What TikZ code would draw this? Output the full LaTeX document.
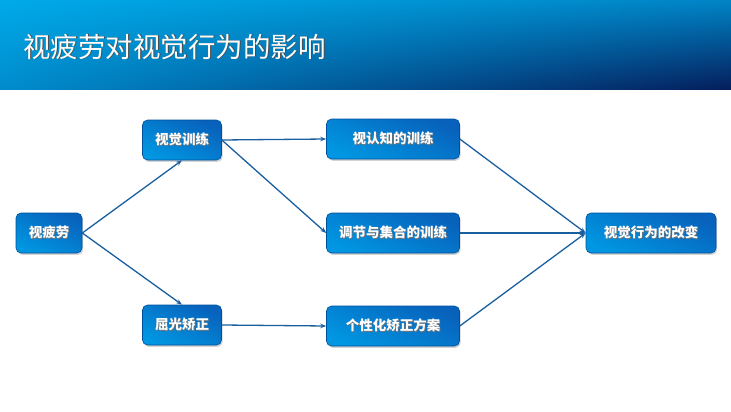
\documentclass[tikz,border=0pt]{standalone}
\usepackage{fontspec}
\setmainfont{Noto Sans CJK SC}
\usetikzlibrary{arrows.meta,shadows,shadings}

\definecolor{barlt}{RGB}{0,170,232}
\definecolor{barlb}{RGB}{0,140,205}
\definecolor{barrt}{RGB}{0,132,198}
\definecolor{barrb}{RGB}{5,30,92}
\definecolor{boxtop}{RGB}{8,98,188}
\definecolor{boxbot}{RGB}{0,150,225}
\definecolor{boxline}{RGB}{0,80,155}
\definecolor{linkblue}{RGB}{25,95,160}

\newcommand\shadowtext[2][black!55]{\rlap{\kern0.9pt\raisebox{-0.9pt}{\color{#1}#2}}#2}

\tikzset{
  stepbox/.style={draw=boxline, line width=0.6pt, rounded corners=5pt,
    top color=boxtop, bottom color=boxbot, shading angle=-25,
    minimum height=40pt, inner sep=0pt, text=white,
    font=\fontsize{13.5}{14}\selectfont\bfseries,
    drop shadow={shadow xshift=1.2pt, shadow yshift=-1.8pt, opacity=0.35}},
  link/.style={draw=linkblue, line width=1.3pt,
    -{Stealth[length=6pt,width=4.5pt]}}
}

\begin{document}
\begin{tikzpicture}[x=1pt,y=-1pt]
	\useasboundingbox (0,0) rectangle (731,412);
	% title bar
	\shade[upper left=barlt, lower left=barlb, upper right=barrt, lower right=barrb]
	  (0,0) rectangle (731,89);
	\node[anchor=west, text=white, inner sep=0pt, font=\fontsize{27.5}{30}\selectfont]
	  (title) at (23,47) {\shadowtext[black!70]{视疲劳对视觉行为的影响}};

	% boxes
	\node[stepbox, minimum width=66pt]  (fatigue) at (49,233)  {\shadowtext{视疲劳}};
	\node[stepbox, minimum width=79pt]  (train)   at (182,140) {\shadowtext{视觉训练}};
	\node[stepbox, minimum width=79pt]  (refr)    at (182,325) {\shadowtext{屈光矫正}};
	\node[stepbox, minimum width=133pt] (cogn)    at (393,139) {\shadowtext{视认知的训练}};
	\node[stepbox, minimum width=133pt] (accom)   at (393,233) {\shadowtext{调节与集合的训练}};
	\node[stepbox, minimum width=133pt] (plan)    at (393,326) {\shadowtext{个性化矫正方案}};
	\node[stepbox, minimum width=130pt] (behav)   at (651,233) {\shadowtext{视觉行为的改变}};

	% links
	\draw[link] (fatigue.east) -- (train.south);
	\draw[link] (fatigue.east) -- (refr.north);
	\draw[link] (train.east) -- (cogn.west);
	\draw[link] (train.east) -- (accom.west);
	\draw[link] (refr.east) -- (plan.west);
	\draw[link] (cogn.east) -- (behav.west);
	\draw[link] (accom.east) -- (behav.west);
	\draw[link] (plan.east) -- (behav.west);
\end{tikzpicture}
\end{document}
